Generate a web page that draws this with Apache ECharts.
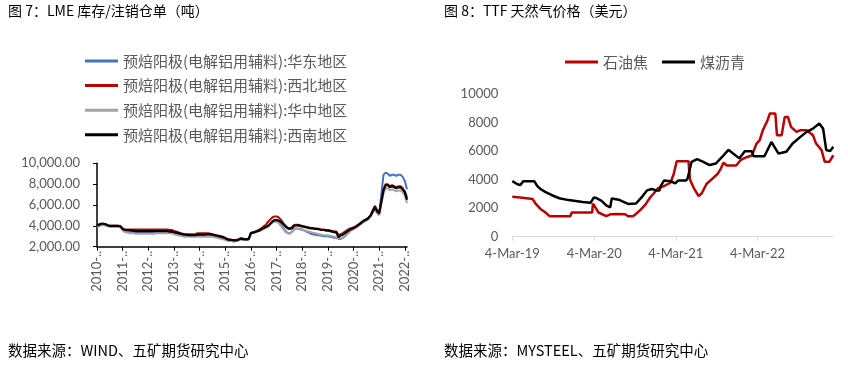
<!DOCTYPE html>
<html><head><meta charset="utf-8">
<script src="https://cdn.jsdelivr.net/npm/echarts@6/dist/echarts.min.js"></script>
<style>html,body{margin:0;padding:0;background:#fff}#c{width:848px;height:372px}</style>
</head><body><div id="c"></div>
<script>
// ---------- Chart 7: monthly categories 2010-01 .. 2022-02 ----------
const months = [];
for (let y = 2010; y <= 2022; y++) {
  for (let m = 1; m <= 12; m++) {
    if (y === 2022 && m > 2) break;
    months.push(y + '-' + String(m).padStart(2, '0'));
  }
}
const nameEast = '预焙阳极(电解铝用辅料):华东地区';
const nameNW = '预焙阳极(电解铝用辅料):西北地区';
const nameCentral = '预焙阳极(电解铝用辅料):华中地区';
const nameSW = '预焙阳极(电解铝用辅料):西南地区';

const eastChina = [
  4000,4050,4150,4150,4100,4000,3950,3950,3950,3950,3950,3900,
  3600,3450,3400,3400,3400,3400,3400,3400,3400,3400,3400,3400,
  3400,3400,3400,3450,3450,3450,3450,3450,3450,3450,3400,3400,
  3300,3250,3200,3150,3100,3050,3050,3050,3050,3050,3050,3050,
  3050,3050,3100,3100,3100,3100,3050,3000,2950,2900,2850,2800,
  2700,2600,2550,2550,2500,2550,2600,2700,2700,2650,2650,2700,
  3300,3350,3400,3450,3550,3650,3750,3850,4000,4200,4400,4500,
  4500,4350,4150,3850,3550,3350,3250,3400,3650,3750,3750,3700,
  3650,3550,3450,3350,3250,3200,3150,3100,3100,3050,3000,3000,
  3000,2950,2900,2850,2850,2750,2750,2850,3000,3200,3400,3600,
  3700,3850,4000,4150,4300,4450,4550,4700,4950,5400,5900,5400,
  5200,7000,8900,9100,9000,8800,8900,8900,8800,8900,8900,8700,
  8300,7500
];
const northWest = [
  4100,4150,4200,4200,4150,4050,4000,4000,4000,4000,4000,3950,
  3750,3650,3650,3650,3650,3650,3650,3650,3650,3650,3650,3650,
  3650,3650,3650,3650,3650,3650,3650,3650,3650,3650,3600,3600,
  3500,3450,3400,3300,3250,3200,3200,3200,3200,3200,3200,3300,
  3300,3300,3300,3300,3300,3250,3200,3150,3100,3050,3000,2950,
  2850,2750,2700,2650,2650,2650,2700,2800,2800,2750,2750,2800,
  3350,3400,3450,3550,3650,3800,3950,4100,4400,4600,4800,4900,
  4900,4800,4600,4300,4000,3850,3750,3850,4050,4100,4100,4050,
  4000,3950,3900,3850,3800,3800,3750,3750,3700,3650,3650,3600,
  3600,3550,3500,3450,3450,3100,3200,3300,3450,3600,3700,3800,
  3850,3950,4100,4250,4400,4550,4650,4800,5000,5500,5900,5500,
  5300,6400,7500,8000,8000,7800,7900,7800,7700,7800,7800,7600,
  7300,6700
];
const centralChina = [
  3900,3950,4050,4050,4000,3950,3900,3900,3900,3900,3900,3850,
  3550,3400,3350,3300,3300,3300,3250,3250,3250,3250,3250,3250,
  3250,3250,3250,3250,3300,3300,3300,3300,3300,3300,3300,3300,
  3200,3150,3100,3050,3000,2950,2950,2950,2950,2950,2950,2950,
  2950,2950,2950,2950,2950,2950,2950,2900,2850,2800,2750,2700,
  2650,2600,2550,2550,2550,2550,2600,2700,2700,2650,2650,2700,
  3300,3350,3400,3450,3500,3600,3700,3800,3900,4100,4300,4400,
  4400,4250,4000,3700,3450,3300,3250,3350,3600,3700,3700,3650,
  3600,3550,3500,3450,3400,3350,3300,3250,3200,3150,3100,3100,
  3100,3050,3000,2950,2900,2800,2800,2900,3050,3250,3450,3600,
  3700,3800,3950,4100,4250,4400,4500,4650,4900,5250,5600,5200,
  5000,6100,7100,7600,7600,7400,7500,7400,7300,7400,7400,7200,
  6900,6200
];
const southWest = [
  4050,4100,4200,4200,4150,4050,4000,4000,4000,4000,4000,3950,
  3700,3600,3600,3600,3550,3550,3500,3500,3500,3500,3500,3500,
  3500,3500,3500,3500,3500,3500,3500,3500,3500,3500,3450,3450,
  3400,3350,3300,3250,3200,3150,3150,3100,3100,3100,3100,3150,
  3150,3150,3150,3200,3200,3200,3150,3100,3050,3000,2950,2900,
  2800,2700,2650,2650,2600,2600,2650,2750,2750,2700,2700,2750,
  3300,3350,3400,3500,3550,3700,3800,3900,4000,4200,4400,4550,
  4550,4500,4400,4200,4000,3800,3700,3750,3950,4050,4050,4000,
  3950,3900,3850,3800,3750,3750,3700,3700,3650,3600,3600,3550,
  3550,3500,3450,3400,3350,2900,3100,3150,3300,3450,3600,3700,
  3800,3900,4050,4200,4350,4500,4600,4750,5000,5400,5800,5400,
  5200,6300,7400,7900,7900,7700,7800,7700,7600,7700,7700,7500,
  7200,6500
];
const lmeYTicks = [2000, 10000, 2000]; // min, max, interval

// ---------- Chart 8: weeks since 4-Mar-19 ----------
const cokeName = '石油焦';
const pitchName = '煤沥青';
const cokeWeeks = [0,5,13,15,18,21,24,37,38,51,51.5,53,55,60,63,67,72,74,77,79,82,85,88,90,93,97,101,103,105,112.5,113.5,116,119,121,124,128,131,133,135,137,143,146,150,153,156,158,160,163,164.5,168,169,172,174,176,178,181.5,184,188,192,194,197.5,199.5,202.5,205];
const cokeValues = [2800,2760,2640,2300,1950,1720,1430,1430,1700,1700,2320,2070,1700,1450,1580,1600,1580,1440,1440,1600,1900,2250,2750,3000,3400,3560,3790,4370,5300,5300,4000,3400,2850,3050,3700,4100,4400,4750,5200,5000,5000,5400,5600,5700,6540,6780,7480,8180,8650,8650,7130,7130,8410,8410,7710,7360,7480,7480,7130,6540,6080,5260,5260,5720];
const pitchWeeks = [0,3,5,7,14,16,18,21,25,30,36,45,50,52,54,57,60,62.5,63.5,68,71,74,79,83,86,89,92,94,95,97,101,104,106,111,112,114.5,118,122,126,130,134,138,141,145,148.5,153,154,161,165.5,170,175,179,184,188,192,196,198.5,200.5,203,205];
const pitchValues = [3900,3700,3620,3900,3900,3550,3350,3150,2930,2700,2570,2440,2380,2750,2700,2520,2200,2050,2680,2600,2450,2300,2330,2820,3250,3350,3250,3250,3600,3950,3900,3750,3950,3950,4100,5260,5450,5260,5030,5140,5600,6100,5840,5500,6000,6000,5650,5650,6650,5840,5960,6540,7010,7360,7590,7950,7590,6080,6020,6310];
const ttfTickWeeks = [0, 366/7, 731/7, 1096/7];
const ttfTickLabels = ['4-Mar-19', '4-Mar-20', '4-Mar-21', '4-Mar-22'];
const ttfYTicks = [0, 10000, 2000];

const zip = (xs, ys) => xs.map((x, i) => [x, ys[i]]);
const cjk = 'Noto Sans CJK SC';
const latin = 'Lato';
const gray = '#595959';

const chart = echarts.init(document.getElementById('c'), null, {renderer: 'canvas'});
chart.setOption({
  animation: false,
  backgroundColor: '#fff',
  graphic: [
    {type: 'text', left: 8, top: 4, style: {text: '图 7：LME 库存/注销仓单（吨）', font: '14px "Noto Sans CJK SC"', fill: '#000'}},
    {type: 'text', left: 444, top: 4, style: {text: '图 8：TTF 天然气价格（美元）', font: '14px "Noto Sans CJK SC"', fill: '#000'}},
    {type: 'text', left: 8, top: 343, style: {text: '数据来源：WIND、五矿期货研究中心', font: '14.5px "Noto Sans CJK SC"', fill: '#000'}},
    {type: 'text', left: 444, top: 343, style: {text: '数据来源：MYSTEEL、五矿期货研究中心', font: '14.5px "Noto Sans CJK SC"', fill: '#000'}}
  ],
  legend: [
    {
      orient: 'vertical', left: 85, top: 53, padding: 0, itemWidth: 33, itemHeight: 3, icon: 'rect', itemGap: 8.6,
      textStyle: {fontFamily: cjk, fontSize: 15, color: gray, lineHeight: 16},
      data: [nameEast, nameNW, nameCentral, nameSW]
    },
    {
      orient: 'horizontal', left: 565, top: 54, padding: 0, itemWidth: 33, itemHeight: 3, icon: 'rect', itemGap: 14,
      textStyle: {fontFamily: cjk, fontSize: 15, color: gray, lineHeight: 16},
      data: [cokeName, pitchName]
    }
  ],
  grid: [
    {left: 97, right: 441, top: 163.3, bottom: 125.3, containLabel: false},
    {left: 512.3, right: 14.7, top: 94.3, bottom: 135.3, containLabel: false}
  ],
  xAxis: [
    {
      gridIndex: 0, type: 'category', data: months, boundaryGap: false,
      axisLine: {lineStyle: {color: '#000', width: 1.5}},
      axisTick: {show: true, length: 4, lineStyle: {color: '#000'}, interval: (i) => i % 12 === 0},
      axisLabel: {
        rotate: 90, interval: (i) => i % 12 === 0, margin: 4,
        fontFamily: latin, fontSize: 13, color: gray,
        formatter: (v) => v.slice(0, 4) + '-..'
      },
      splitLine: {show: false}
    },
    {
      gridIndex: 1, type: 'value', min: 0, max: 205,
      axisLine: {lineStyle: {color: '#d9d9d9', width: 1}},
      axisTick: {show: true, length: 4, lineStyle: {color: '#d9d9d9'}, customValues: ttfTickWeeks},
      axisLabel: {
        customValues: ttfTickWeeks, margin: 11, fontFamily: latin, fontSize: 13, color: gray,
        formatter: (v) => {
          const i = ttfTickWeeks.findIndex(t => Math.abs(t - v) < 0.01);
          return i >= 0 ? ttfTickLabels[i] : '';
        }
      },
      splitLine: {show: false}
    }
  ],
  yAxis: [
    {
      gridIndex: 0, type: 'value', min: lmeYTicks[0], max: lmeYTicks[1], interval: lmeYTicks[2],
      axisLine: {show: true, lineStyle: {color: '#000', width: 1.5}},
      axisTick: {show: true, length: 4, lineStyle: {color: '#000'}},
      axisLabel: {
        margin: 17, fontFamily: latin, fontSize: 13, color: gray,
        formatter: (v) => v.toLocaleString('en-US', {minimumFractionDigits: 2, maximumFractionDigits: 2})
      },
      splitLine: {show: false}
    },
    {
      gridIndex: 1, type: 'value', min: ttfYTicks[0], max: ttfYTicks[1], interval: ttfYTicks[2],
      axisLine: {show: false}, axisTick: {show: false},
      axisLabel: {margin: 14, fontFamily: latin, fontSize: 13, color: gray, showMinLabel: true, formatter: (v) => String(v)},
      splitLine: {show: false}
    }
  ],
  series: [
    {name: nameEast, type: 'line', xAxisIndex: 0, yAxisIndex: 0, data: eastChina, showSymbol: false, lineStyle: {width: 2, color: '#4472C4'}, itemStyle: {color: '#4472C4'}},
    {name: nameNW, type: 'line', xAxisIndex: 0, yAxisIndex: 0, data: northWest, showSymbol: false, lineStyle: {width: 2, color: '#C00000'}, itemStyle: {color: '#C00000'}},
    {name: nameCentral, type: 'line', xAxisIndex: 0, yAxisIndex: 0, data: centralChina, showSymbol: false, lineStyle: {width: 2, color: '#A5A5A5'}, itemStyle: {color: '#A5A5A5'}},
    {name: nameSW, type: 'line', xAxisIndex: 0, yAxisIndex: 0, data: southWest, showSymbol: false, lineStyle: {width: 2.2, color: '#000000'}, itemStyle: {color: '#000000'}},
    {name: cokeName, type: 'line', xAxisIndex: 1, yAxisIndex: 1, data: zip(cokeWeeks, cokeValues), showSymbol: false, lineStyle: {width: 2.5, color: '#C00000'}, itemStyle: {color: '#C00000'}},
    {name: pitchName, type: 'line', xAxisIndex: 1, yAxisIndex: 1, data: zip(pitchWeeks, pitchValues), showSymbol: false, lineStyle: {width: 2.5, color: '#000000'}, itemStyle: {color: '#000000'}}
  ]
});
</script></body></html>
